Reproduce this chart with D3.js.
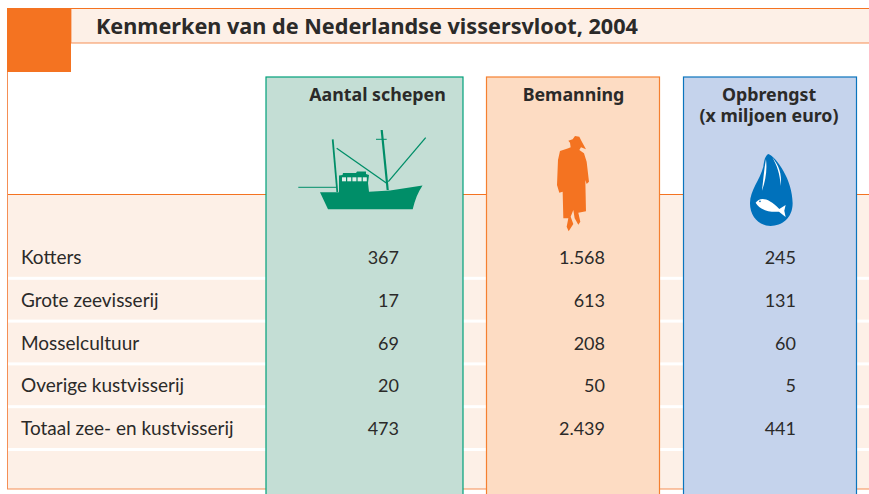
<!DOCTYPE html>
<html>
<head>
<meta charset="utf-8">
<script src="https://cdn.jsdelivr.net/npm/d3@7"></script>
<style>
  html, body { margin: 0; padding: 0; background: #fff; }
  svg { display: block; }
  text { font-family: Lato, "Open Sans", sans-serif; fill: #2b2a29; }
  text.head { font-family: "Noto Sans", "Open Sans", sans-serif; font-weight: 700; }
</style>
</head>
<body>
<div id="chart"></div>
<script>
var title = "Kenmerken van de Nederlandse vissersvloot, 2004";
var categories = ["Kotters", "Grote zeevisserij", "Mosselcultuur", "Overige kustvisserij", "Totaal zee- en kustvisserij"];
var columnNames = ["Aantal schepen", "Bemanning", "Opbrengst"];
var columnSubNames = ["", "", "(x miljoen euro)"];
var schepen = ["367", "17", "69", "20", "473"];
var bemanning = ["1.568", "613", "208", "50", "2.439"];
var opbrengst = ["245", "131", "60", "5", "441"];

var width = 869,
    height = 494;
var orange = "#f47321";

var svg = d3.select("#chart").append("svg")
    .attr("width", width)
    .attr("height", height);

// rows run from the first separator-less band down to the bottom of the table
var rowScale = d3.scaleBand()
    .domain(categories)
    .range([235.5, 449.5]);

drawFrame();
drawColumns();
drawRows();
drawBoat();
drawPerson();
drawDrop();

function drawFrame() {
    // body of the table
    svg.append("rect").attr("x", 7.5).attr("y", 194.5).attr("width", 870).attr("height", 294.5)
        .attr("fill", "#fdf0e7").attr("stroke", "#f58f55");
    svg.append("line").attr("x1", 7).attr("x2", width).attr("y1", 194.5).attr("y2", 194.5)
        .attr("stroke", orange);
    svg.append("line").attr("x1", 7.5).attr("x2", 7.5).attr("y1", 8).attr("y2", 195)
        .attr("stroke", "#f58f55");

    // white row separators
    svg.selectAll(".sep").data(categories).enter().append("rect")
        .attr("class", "sep")
        .attr("x", 8).attr("width", width)
        .attr("y", function(d) { return rowScale(d) + rowScale.bandwidth() - 1.5; })
        .attr("height", 3)
        .attr("fill", "#fff");

    // title band
    svg.append("rect").attr("x", 71).attr("y", 8.5).attr("width", 800).attr("height", 34.5)
        .attr("fill", "#fdf0e7").attr("stroke", "#f58f55");
    svg.append("line").attr("x1", 7).attr("x2", width).attr("y1", 8.5).attr("y2", 8.5)
        .attr("stroke", orange);
    svg.append("rect").attr("x", 7).attr("y", 8).attr("width", 64).attr("height", 64)
        .attr("fill", orange);
    svg.append("text").attr("class", "head").attr("x", 96).attr("y", 34)
        .attr("font-size", 20.5)
        .attr("textLength", 542).attr("lengthAdjust", "spacingAndGlyphs")
        .text(title);
}

function drawColumns() {
    var cols = [
        { x: 266, w: 197, fill: "#c4ded5", stroke: "#00a07a", tx: 377.5 },
        { x: 486.5, w: 173, fill: "#fddcc3", stroke: "#f58030", tx: 573.5 },
        { x: 683.5, w: 173, fill: "#c5d3ec", stroke: "#0a74bd", tx: 769 }
    ];

    cols.forEach(function(c, i) {
        svg.append("rect").attr("x", c.x).attr("y", 77).attr("width", c.w).attr("height", 430)
            .attr("fill", c.fill).attr("stroke", c.stroke).attr("stroke-width", 1.2);
        svg.append("text").attr("class", "head").attr("x", c.tx).attr("y", 101)
            .attr("text-anchor", "middle").attr("font-size", 17.8)
            .text(columnNames[i]);
        if (columnSubNames[i]) {
            svg.append("text").attr("class", "head").attr("x", c.tx).attr("y", 122)
                .attr("text-anchor", "middle").attr("font-size", 17.8)
                .text(columnSubNames[i]);
        }
    });
}

function drawRows() {
    var rows = svg.selectAll(".row").data(categories).enter().append("g")
        .attr("class", "row")
        .attr("transform", function(d) {
            return "translate(0," + (rowScale(d) + rowScale.bandwidth() / 2 + 7) + ")";
        });

    rows.append("text").attr("x", 21).attr("font-size", 19)
        .text(function(d) { return d; });

    addValues(schepen, 399);
    addValues(bemanning, 605);
    addValues(opbrengst, 796);

    function addValues(values, right) {
        rows.append("text")
            .attr("x", right)
            .attr("text-anchor", "end")
            .attr("font-size", 18)
            .text(function(d, i) { return values[i]; });
    }
}

function drawBoat() {
    var green = "#008e68";
    var g = svg.append("g");
    g.append("path").attr("fill", green)
        .attr("d", "M320,192.3 L328,209.3 L412.7,209.3 C415,200 418,192 422.5,185.5 L390,190.5 L369,191.7 L368,183 L369,175 L366,174 L366,171.5 L357,171.5 L356,173 L343,173 L342.5,175 L339,175.5 L339,192.3 Z");
    // cabin windows
    g.selectAll(".win").data([0, 1, 2, 3, 4]).enter().append("rect")
        .attr("class", "win")
        .attr("x", function(d) { return 342 + d * 5.2; })
        .attr("y", 177.3)
        .attr("width", 4).attr("height", 4)
        .attr("fill", "#e0ede8");
    var lines = [
        [332.7, 139.3, 337.3, 192, 1.8],
        [381.7, 130, 387.7, 190, 2.2],
        [376, 139.3, 386.7, 139.3, 1],
        [336.7, 148.3, 386.7, 183.3, 1.3],
        [425.7, 137.7, 388.3, 181.7, 1.3],
        [298.3, 187.3, 337, 187.3, 1]
    ];
    g.selectAll(".rig").data(lines).enter().append("line")
        .attr("class", "rig")
        .attr("x1", function(d) { return d[0]; })
        .attr("y1", function(d) { return d[1]; })
        .attr("x2", function(d) { return d[2]; })
        .attr("y2", function(d) { return d[3]; })
        .attr("stroke-width", function(d) { return d[4]; })
        .attr("stroke", green);
}

function drawPerson() {
    svg.append("path")
        .attr("transform", "translate(480,70) scale(0.3333)")
        .attr("fill", orange)
        .attr("d", "M265,212 L278,208 L285,198 L298,200 L304,212 L318,238 L303,232 L298,240 L312,250 L320,275 L327,335 L320,342 L316,330 L318,424 L295,428 L301,455 L295,464 L284,445 L280,420 L272,440 L280,462 L266,484 L260,470 L265,445 L250,445 L248,365 L238,368 L231,345 L234,270 L240,243 L265,235 L272,232 L270,218 Z");
}

function drawDrop() {
    var g = svg.append("g").attr("transform", "translate(480,70) scale(0.3333)");
    g.append("path").attr("fill", "#0071bb")
        .attr("d", "M865,252 C890,262 938,330 938,400 C938,445 905,468 872,468 C838,468 810,440 810,400 C810,360 840,330 850,290 C853,270 855,258 865,252 Z");
    g.append("path").attr("fill", "#fff")
        .attr("d", "M877,262 C895,285 907,310 902,348 C900,310 890,285 877,262 Z");
    g.append("path").attr("fill", "#fff")
        .attr("d", "M858,268 C862,300 857,332 846,362 C850,330 852,300 858,268 Z");
    // fish
    g.append("path").attr("fill", "#fff")
        .attr("d", "M827,398 C840,380 865,382 898,417 L917,405 L913,422 L917,441 L897,425 C870,428 840,420 827,398 Z");
    g.append("circle").attr("cx", 840).attr("cy", 394).attr("r", 2.5).attr("fill", "#0071bb");
}
</script>
</body>
</html>
